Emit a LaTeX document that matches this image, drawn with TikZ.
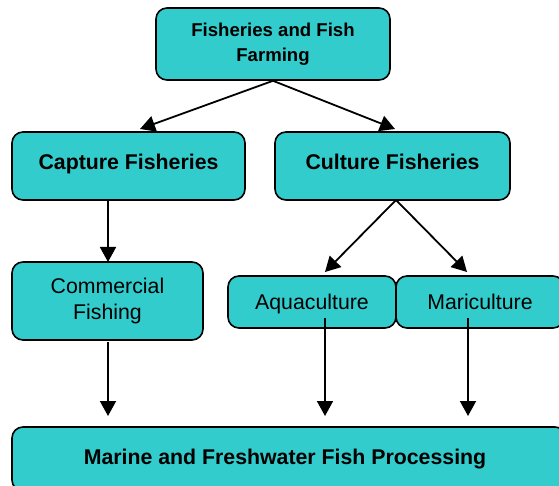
\documentclass[tikz,border=0pt]{standalone}
\usepackage{fontspec}
\setmainfont{Liberation Sans}
\usetikzlibrary{arrows.meta,calc}
\definecolor{teal1}{HTML}{33CCCC}
\tikzset{
  box/.style={draw=black, line width=1.6pt, fill=teal1, rounded corners=11pt, align=center, inner sep=0pt},
  boldtxt/.style={font=\fontsize{21.3}{25}\selectfont\bfseries},
  regtxt/.style={font=\fontsize{21.3}{26}\selectfont},
  oneline/.style={text height=15.3pt, text depth=0pt},
  conn/.style={line width=1.8pt, -{Triangle[width=16pt,length=15pt]}},
}
\begin{document}
\begin{tikzpicture}[x=1pt,y=-1pt]
\useasboundingbox (0,0) rectangle (559,486);
\clip (0,0) rectangle (559,486);
\node[box, minimum width=234pt, minimum height=72pt, font=\fontsize{18.6}{25}\selectfont\bfseries] (top) at (273,44)
  {Fisheries and Fish\\Farming};
\node[box, boldtxt, oneline, text depth=8pt, minimum width=233pt, minimum height=68pt] (cap) at (128.5,166)
  {Capture Fisheries};
\node[box, boldtxt, oneline, text depth=8pt, minimum width=235pt, minimum height=68pt] (cul) at (392.5,166)
  {Culture Fisheries};
\node[box, regtxt, minimum width=191pt, minimum height=78pt] (com) at (107.5,301)
  {Commercial\\Fishing};
\node[box, regtxt, oneline, minimum width=168pt, minimum height=52pt] (aqu) at (312,302)
  {Aquaculture};
\node[box, regtxt, oneline, minimum width=168pt, minimum height=52pt] (mar) at (480,302)
  {Mariculture};
\node[box, boldtxt, oneline, text depth=4pt, minimum width=554pt, minimum height=64pt] (bot) at (289,459)
  {\hspace*{-8pt}Marine and Freshwater Fish Processing};
% free ends
\coordinate (capT) at (140,129);
\coordinate (culT) at (395,129);
\coordinate (comT) at (108,262);
\coordinate (comS) at (108,342);
\coordinate (comE) at (108,416);
\coordinate (aquT) at (325,272);
\coordinate (marT) at (467,272);
\coordinate (aquS) at (325,318);
\coordinate (aquE) at (325,416);
\coordinate (marS) at (468,318);
\coordinate (marE) at (468,416);
\coordinate (culS) at (396,200);
\coordinate (capS) at (108,200);
\draw[conn] (top.south) -- (capT);
\draw[conn] (top.south) -- (culT);
\draw[conn] (capS) -- (comT);
\draw[conn] (comS) -- (comE);
\draw[conn] (culS) -- (aquT);
\draw[conn] (culS) -- (marT);
\draw[conn] (aquS) -- (aquE);
\draw[conn] (marS) -- (marE);
\end{tikzpicture}
\end{document}
